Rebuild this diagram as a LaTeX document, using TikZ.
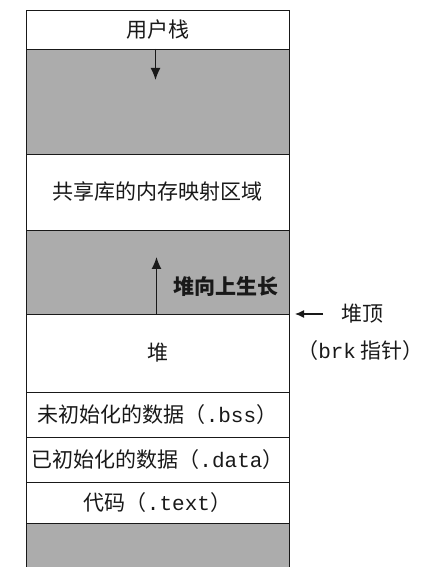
\documentclass[tikz,border=0pt]{standalone}
\usepackage{fontspec}
\setmainfont{Noto Sans CJK SC}
\setmonofont{Liberation Mono}
\usetikzlibrary{arrows.meta,positioning}
\definecolor{ink}{RGB}{25,25,25}
\definecolor{hole}{RGB}{172,172,172}
\tikzset{
  seg/.style={draw=ink,line width=0.8pt,fill=white,minimum width=263pt,
    inner sep=0pt,outer sep=0pt,font=\fontsize{21}{25}\selectfont,text=ink},
  gap/.style={seg,fill=hole},
  arr/.style={-{Latex[length=12pt,width=10pt]},line width=1.3pt,ink},
  arrsm/.style={-{Latex[length=9pt,width=8pt]},line width=1.2pt,ink},
  lbl/.style={font=\fontsize{21}{25}\selectfont,text=ink},
}

\begin{document}
\begin{tikzpicture}[x=1pt,y=1pt,node distance=0pt]
  \useasboundingbox (0,0) rectangle (421,567);
  % address space, top to bottom
  \node[seg,minimum height=39pt] (ustack) at (157.5,537.5) {用户栈};
  \node[gap,minimum height=105pt,below=of ustack] (free1) {};
  \node[seg,minimum height=76pt,below=of free1] (shlib) {共享库的内存映射区域};
  \node[gap,minimum height=84pt,below=of shlib] (free2) {};
  \node[seg,minimum height=78pt,below=of free2] (heap) {堆};
  \node[seg,minimum height=45pt,below=of heap] (bss) {未初始化的数据（\texttt{.bss}）};
  \node[seg,minimum height=45pt,below=of bss] (data) {已初始化的数据（\texttt{.data}）};
  \node[seg,minimum height=41pt,below=of data] (text) {代码（\texttt{.text}）};
  \node[gap,minimum height=60pt,below=of text] (free3) {};
  \node[lbl,font=\fontsize{17}{20}\selectfont,left=6pt of free3.south west] (zero) {0};

  % growth
  \coordinate[below=31pt of ustack.south] (sdown);
  \draw[arr] ([xshift=-2pt]ustack.south) -- ([xshift=-2pt]sdown);
  \coordinate[above=57pt of heap.north] (hup);
  \draw[arr] ([xshift=-1pt]heap.north) -- ([xshift=-1pt]hup);
  \node[lbl,font=\fontsize{21}{25}\selectfont\bfseries,
    above right=14pt and 12pt of heap.north] (grow) {堆向上生长};

  % brk
  \node[lbl,anchor=west,right=49pt of heap.north east] (brk) {堆顶};
  \node[lbl,inner sep=0pt,below=13pt of brk,xshift=-2pt] (brkptr) {（\texttt{brk} 指针）};
  \draw[arrsm] ([xshift=-15pt]brk.west) -- ([xshift=6pt]heap.north east);
\end{tikzpicture}
\end{document}
